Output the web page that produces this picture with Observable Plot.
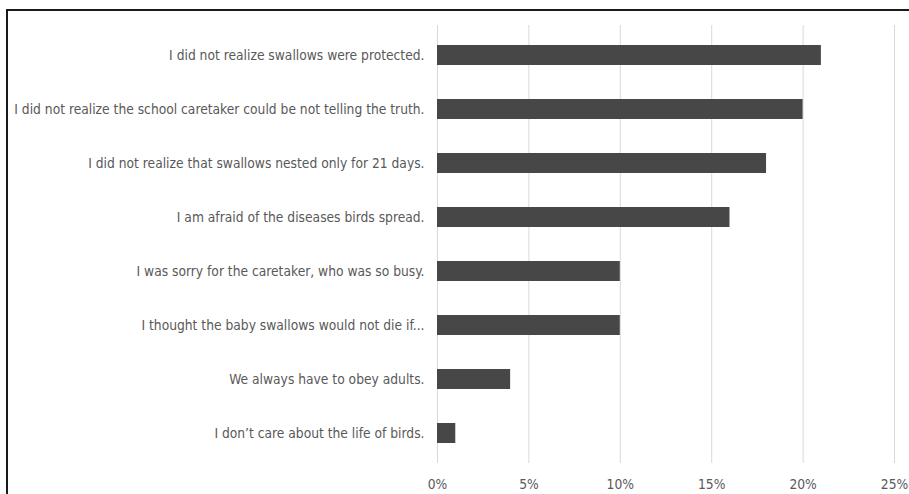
<!DOCTYPE html>
<html>
<head>
<meta charset="utf-8">
<script src="https://cdn.jsdelivr.net/npm/d3@7"></script>
<script src="https://cdn.jsdelivr.net/npm/@observablehq/plot@0.6"></script>
<style>
  html, body { margin: 0; padding: 0; background: #fff; }
  #wrap { position: relative; width: 909px; height: 494px; overflow: hidden; }
  #frame { position: absolute; left: 6px; top: 9px; width: 920px; height: 500px;
           border-top: 2px solid #1a1a1a; border-left: 2px solid #1a1a1a; pointer-events: none; }
  svg { display: block; }
</style>
</head>
<body>
<div id="wrap"><div id="frame"></div></div>
<script>
// Reasons given, from most to least frequent
const reasons = [
  "I did not realize swallows were protected.",
  "I did not realize the school caretaker could be not telling the truth.",
  "I did not realize that swallows nested only for 21 days.",
  "I am afraid of the diseases birds spread.",
  "I was sorry for the caretaker, who was so busy.",
  "I thought the baby swallows would not die if...",
  "We always have to obey adults.",
  "I don\u2019t care about the life of birds."
];
// Share of respondents (percent)
const shares = [21, 20, 18, 16, 10, 10, 4, 1];
// Axis ticks (percent)
const xTicks = [0, 5, 10, 15, 20, 25];

const data = reasons.map((r, i) => ({reason: r, share: shares[i] / 100}));
const pct = d => Math.round(d * 100) + "%";

const chart = Plot.plot({
  width: 909,
  height: 494,
  marginLeft: 437,
  marginRight: 15,
  marginTop: 25,
  marginBottom: 31,
  style: {fontFamily: "'Liberation Sans Narrow', 'DejaVu Sans Condensed', sans-serif", fontSize: "13.7px", color: "#595959", background: "transparent"},
  x: {domain: [0, 0.25], ticks: xTicks.map(d => d / 100), tickFormat: pct, label: null},
  y: {domain: reasons, paddingInner: 0.63, paddingOuter: 0.315, label: null},
  marks: [
    Plot.gridX(xTicks.map(d => d / 100), {stroke: "#d9d9d9", strokeOpacity: 1, strokeWidth: 1}),
    Plot.barX(data, {x: "share", y: "reason", fill: "#474747"}),
    Plot.axisX({ticks: xTicks.map(d => d / 100), tickFormat: pct, tickSize: 0, tickPadding: 16, fill: "#595959", label: null}),
    Plot.axisY({tickSize: 0, tickPadding: 13, fill: "#595959", label: null})
  ]
});
document.getElementById("wrap").prepend(chart);
</script>
</body>
</html>
